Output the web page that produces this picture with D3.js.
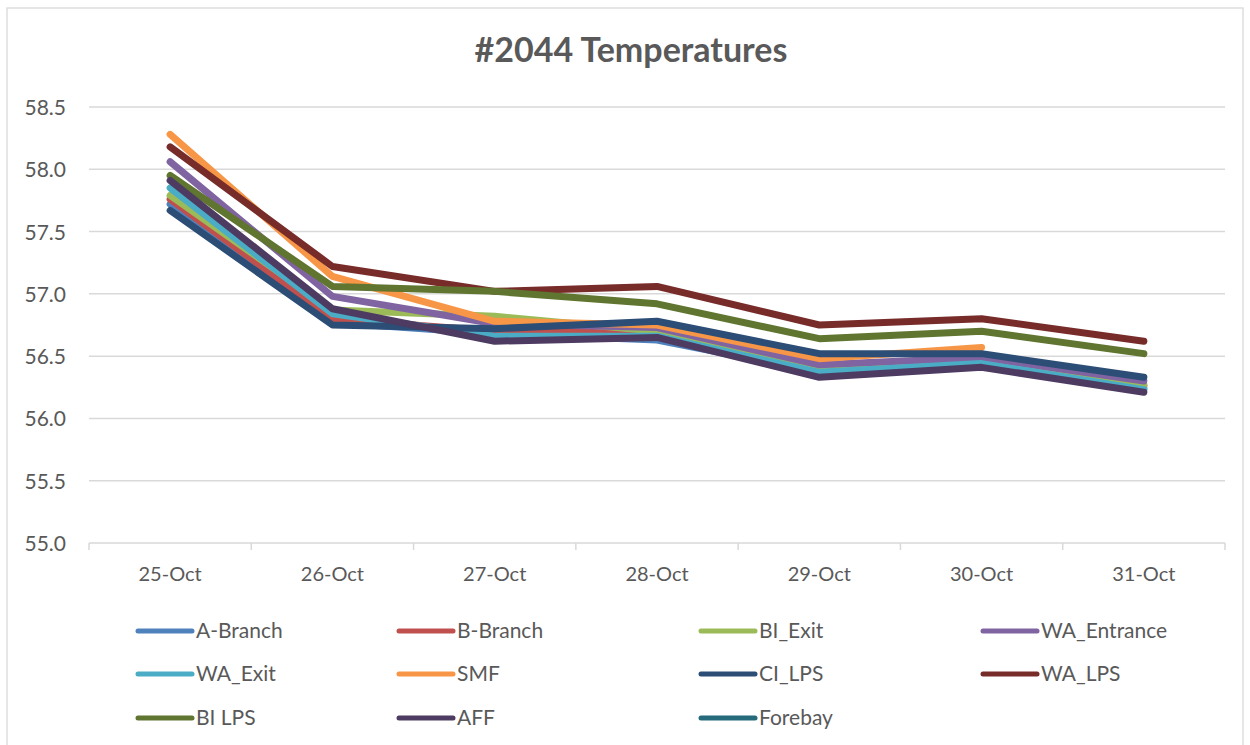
<!DOCTYPE html>
<meta charset="utf-8">
<style>
body { margin: 0; background: #fff; }
text { font-family: Lato, "Open Sans", sans-serif; fill: #595959; }
.grid line { stroke: #d9d9d9; stroke-width: 1.5; }
.series { fill: none; stroke-width: 7; stroke-linecap: round; stroke-linejoin: round; }
</style>
<svg width="1250" height="745"></svg>
<script src="https://d3js.org/d3.v7.min.js"></script>
<script>

var days = ["25-Oct", "26-Oct", "27-Oct", "28-Oct", "29-Oct", "30-Oct", "31-Oct"];
var yTicks = [55.0, 55.5, 56.0, 56.5, 57.0, 57.5, 58.0, 58.5];

var names = ["A-Branch", "B-Branch", "BI_Exit", "WA_Entrance", "WA_Exit", "SMF",
             "CI_LPS", "WA_LPS", "BI LPS", "AFF", "Forebay"];
var colors = ["#4f81bd", "#c0504d", "#9bbb59", "#8064a2", "#4bacc6", "#f79646",
              "#2c4d75", "#772c2a", "#5f7530", "#4d3b62", "#276a7c"];

var aBranch    = [57.72, 56.77, 56.68, 56.63, 56.37, 56.44, 56.24];
var bBranch    = [57.76, 56.80, 56.70, 56.70, 56.39, 56.46, 56.26];
var biExit     = [57.79, 56.87, 56.82, 56.70, 56.40, 56.47, 56.27];
var waEntrance = [58.06, 56.98, 56.76, 56.73, 56.43, 56.49, 56.30];
var waExit     = [57.85, 56.84, 56.66, 56.66, 56.37, 56.44, 56.23];
var smf        = [58.28, 57.14, 56.78, 56.75, 56.48, 56.57, null];
var ciLps      = [57.67, 56.75, 56.72, 56.78, 56.52, 56.52, 56.33];
var waLps      = [58.18, 57.22, 57.02, 57.06, 56.75, 56.80, 56.62];
var biLps      = [57.95, 57.06, 57.02, 56.92, 56.64, 56.70, 56.52];
var aff        = [57.91, 56.88, 56.62, 56.65, 56.33, 56.41, 56.21];
var forebay    = [null, null, null, null, null, null, null];

var values = [aBranch, bBranch, biExit, waEntrance, waExit, smf,
              ciLps, waLps, biLps, aff, forebay];

var svg = d3.select("svg");

// chart border
svg.append("rect")
  .attr("x", 7).attr("y", 8)
  .attr("width", 1236).attr("height", 745)
  .attr("fill", "#fff")
  .attr("stroke", "#d9d9d9")
  .attr("stroke-width", 1.3);

svg.append("text")
  .attr("x", 631).attr("y", 62)
  .attr("text-anchor", "middle")
  .attr("font-size", 34)
  .attr("font-weight", "bold")
  .text("#2044 Temperatures");

var x = d3.scaleBand().domain(days).range([89, 1225]);
var y = d3.scaleLinear().domain([55, 58.5]).range([543, 107]);

var grid = svg.append("g").attr("class", "grid");
grid.selectAll("line")
  .data(yTicks)
  .enter().append("line")
    .attr("x1", 89).attr("x2", 1225)
    .attr("y1", function(d) { return y(d); })
    .attr("y2", function(d) { return y(d); });

// category tick marks
grid.selectAll("line.tick")
  .data(days.concat(["end"]))
  .enter().append("line")
    .attr("class", "tick")
    .attr("x1", function(d, i) { return 89 + i * x.step(); })
    .attr("x2", function(d, i) { return 89 + i * x.step(); })
    .attr("y1", 543).attr("y2", 550);

svg.append("g").selectAll("text")
  .data(yTicks)
  .enter().append("text")
    .attr("x", 66)
    .attr("y", function(d) { return y(d) + 8; })
    .attr("text-anchor", "end")
    .attr("font-size", 21)
    .text(function(d) { return d.toFixed(1); });

svg.append("g").selectAll("text")
  .data(days)
  .enter().append("text")
    .attr("x", function(d) { return x(d) + x.bandwidth() / 2; })
    .attr("y", 581)
    .attr("text-anchor", "middle")
    .attr("font-size", 20)
    .text(function(d) { return d; });

var line = d3.line()
  .defined(function(d) { return d != null; })
  .x(function(d, i) { return x(days[i]) + x.bandwidth() / 2; })
  .y(function(d) { return y(d); });

svg.append("g").selectAll("path")
  .data(values)
  .enter().append("path")
    .attr("class", "series")
    .attr("stroke", function(d, i) { return colors[i]; })
    .attr("d", line);

// legend, 4 columns
var legX = [137, 398, 700, 982];
var legY = [631, 674, 718];

var leg = svg.append("g").selectAll("g")
  .data(names)
  .enter().append("g")
    .attr("transform", function(d, i) {
      return "translate(" + legX[i % 4] + "," + legY[Math.floor(i / 4)] + ")";
    });

leg.append("line")
  .attr("x1", 1).attr("x2", 55)
  .attr("stroke", function(d, i) { return colors[i]; })
  .attr("stroke-width", 5)
  .attr("stroke-linecap", "round");

leg.append("text")
  .attr("x", 59).attr("y", 7)
  .attr("font-size", 21)
  .text(function(d) { return d; });

</script>
